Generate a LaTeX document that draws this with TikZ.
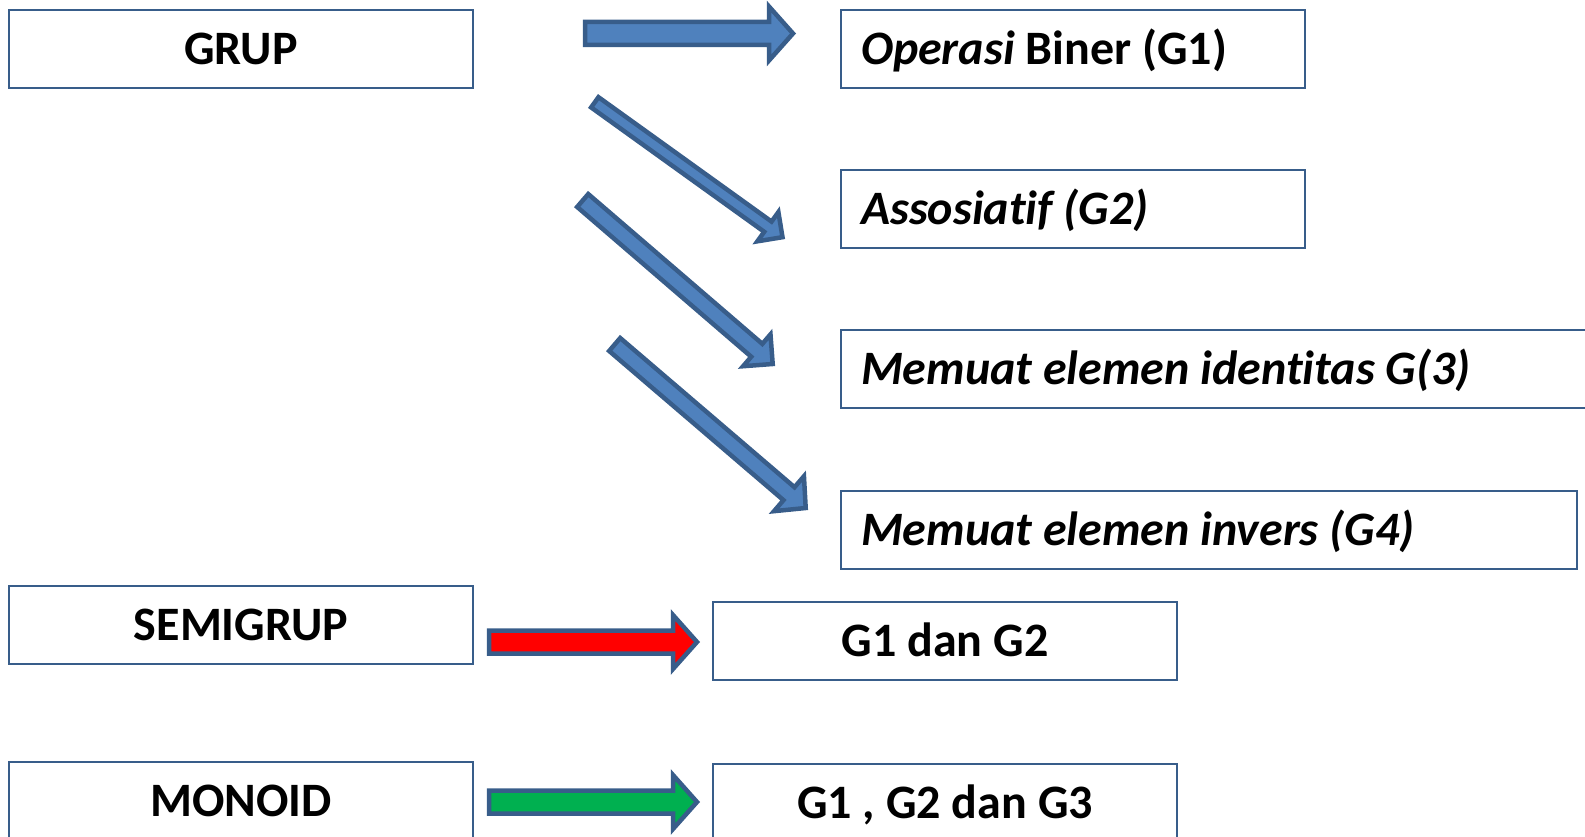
\documentclass[tikz,border=0pt]{standalone}
\usepackage{fontspec}
\setmainfont{Carlito}[Ligatures=NoCommon]
\usetikzlibrary{calc}

\definecolor{edgeblue}{HTML}{385D8A}
\definecolor{fillblue}{HTML}{4F81BD}
\definecolor{fillred}{HTML}{FF0000}
\definecolor{fillgreen}{HTML}{00B050}

\tikzset{
  box/.style={draw=edgeblue, line width=2pt, minimum width=464pt, minimum height=78pt,
    inner sep=0pt, text height=36pt, text depth=5pt,
    font=\fontsize{48}{54}\selectfont\bfseries},
  leftbox/.style={box, text width=#1, align=flush left, inner xsep=20pt},
  blockline/.style={draw=edgeblue, line width=4.5pt, line join=miter}
}

% block arrow: tail, tip, half shaft, half head, head length, fill
\newcommand{\blockarrow}[6]{%
  \draw[blockline, fill=#6]
    ($(#1)!#3!90:(#2)$) -- ($(#2)!#5!(#1)!#3!90:(#2)$) -- ($(#2)!#5!(#1)!#4!90:(#2)$) -- (#2)
    -- ($(#2)!#5!(#1)!#4!-90:(#2)$) -- ($(#2)!#5!(#1)!#3!-90:(#2)$) -- ($(#1)!#3!-90:(#2)$) -- cycle;
}

\begin{document}
\begin{tikzpicture}[x=1pt, y=-1pt]
\useasboundingbox (0,0) rectangle (1585,837);
\clip (0,0) rectangle (1585,837);

% left column
\node[box] (grup) at (241,49) {GRUP};
\node[box] (semigrup) at (241,625) {SEMIGRUP};
\node[box] (monoid) at (241,801) {MONOID};

% axioms
\node[leftbox=424pt] (biner) at (1073,49) {{\itshape Operasi} Biner (G1)};
\node[leftbox=424pt] (asosiatif) at (1073,209) {\itshape Assosiatif (G2)};
\node[leftbox=740pt, minimum width=780pt] (identitas) at (1231,369) {\itshape Memuat elemen identitas G(3)};
\node[leftbox=696pt, minimum width=736pt] (invers) at (1209,529.5) {\itshape Memuat elemen invers (G4)};

% results
\node[box] (gsatudua) at (945,640.5) {G1 dan G2};
\node[box] (gsatuduatiga) at (945,803) {G1 , G2 dan G3};

% arrows
\coordinate (g1tail) at (585,33.5);   \coordinate (g1tip) at (793,33.5);
\coordinate (g2tail) at (594.8,102.3); \coordinate (g2tip) at (782.5,237.2);
\coordinate (g3tail) at (582.7,200.5); \coordinate (g3tip) at (772.7,364);
\coordinate (g4tail) at (614.7,344.5); \coordinate (g4tip) at (805.7,508);
\coordinate (semitail) at (489,642);   \coordinate (semitip) at (697,642);
\coordinate (monotail) at (489,802);   \coordinate (monotip) at (697,802);

\blockarrow{g1tail}{g1tip}{11.5pt}{27pt}{24pt}{fillblue}
\blockarrow{g2tail}{g2tip}{6.3pt}{18pt}{18pt}{fillblue}
\blockarrow{g3tail}{g3tip}{8.5pt}{21pt}{21pt}{fillblue}
\blockarrow{g4tail}{g4tip}{8.5pt}{23pt}{22pt}{fillblue}
\blockarrow{semitail}{semitip}{11.5pt}{27pt}{24pt}{fillred}
\blockarrow{monotail}{monotip}{11.5pt}{27pt}{24pt}{fillgreen}
\end{tikzpicture}
\end{document}
